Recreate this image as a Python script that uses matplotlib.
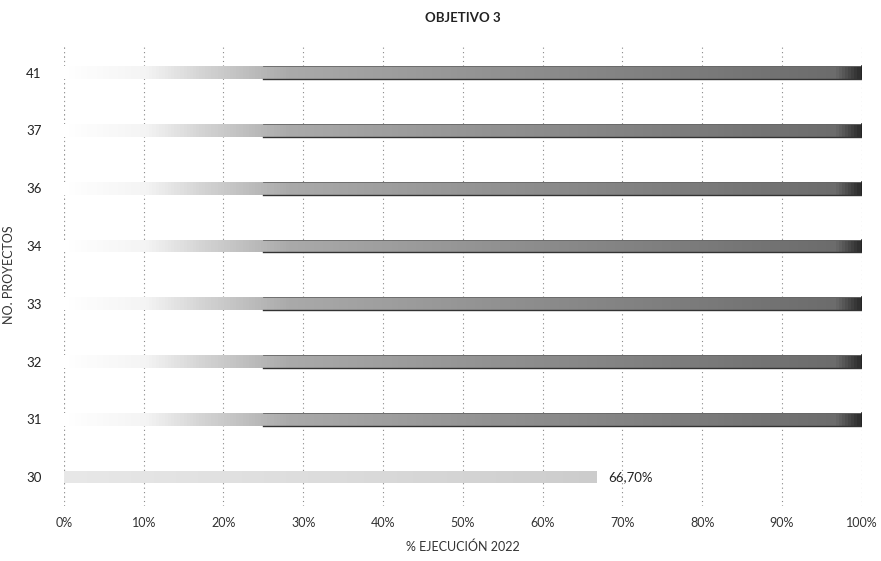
import matplotlib
matplotlib.use("Agg")
import matplotlib.pyplot as plt
import numpy as np
from matplotlib.colors import LinearSegmentedColormap

plt.rcParams['font.family'] = ['Lato', 'DejaVu Sans']

categories = ["30", "31", "32", "33", "34", "36", "37", "41"]
values = [66.7, 100, 100, 100, 100, 100, 100, 100]
labels = ["66,70%", "", "", "", "", "", "", ""]
xticks = [0, 10, 20, 30, 40, 50, 60, 70, 80, 90, 100]
xticklabels = ["0%", "10%", "20%", "30%", "40%", "50%", "60%", "70%", "80%", "90%", "100%"]

fig = plt.figure(figsize=(8.81, 5.61), dpi=100)
ax = fig.add_axes([0.0726, 0.098, 0.9054, 0.824])

ypos = np.arange(len(categories))
bars = ax.barh(ypos, values, height=0.22, color="none", edgecolor="none")

dark_cmap = LinearSegmentedColormap.from_list("g", [
    (0.0, "#ffffff"), (0.10, "#f4f4f4"), (0.17, "#d4d4d4"),
    (0.28, "#aaaaaa"), (0.6, "#8c8c8c"), (0.97, "#6c6c6c"), (1.0, "#303030")])
light_cmap = LinearSegmentedColormap.from_list("l", [
    (0.0, "#e8e8e8"), (0.5, "#dcdcdc"), (1.0, "#cccccc")])

grad = np.linspace(0, 1, 256).reshape(1, -1)
for b, v in zip(bars, values):
    x0, y0 = b.get_x(), b.get_y()
    w, h = b.get_width(), b.get_height()
    cmap = light_cmap if v < 100 else dark_cmap
    im = ax.imshow(grad, cmap=cmap, aspect="auto", extent=[x0, x0 + w, y0, y0 + h],
                   interpolation="bilinear", zorder=3)
    im.set_clip_path(b)
    if v >= 100:
        ax.plot([x0 + 25, x0 + w], [y0 + h, y0 + h], color="#666666", lw=0.6, zorder=4)
        ax.plot([x0 + w, x0 + w], [y0, y0 + h], color="#222222", lw=1.2, zorder=4)
        ax.plot([x0 + 25, x0 + w], [y0, y0], color="#333333", lw=1.0, zorder=4)

for b, lab in zip(bars, labels):
    if lab:
        ax.text(b.get_width() + 1.5, b.get_y() + b.get_height() / 2, lab,
                va="center", ha="left", fontsize=9.5, color="#222222", zorder=5)

ax.set_xlim(0, 100)
ax.set_ylim(-0.5, len(categories) - 0.5)
ax.set_xticks(xticks)
ax.set_xticklabels(xticklabels, fontsize=9, color="#333333")
ax.set_yticks(ypos)
ax.set_yticklabels(categories, fontsize=9.5, color="#222222")
ax.tick_params(length=0, pad=16, axis="y")
ax.tick_params(length=0, pad=8, axis="x")
ax.xaxis.grid(True, linestyle=(0, (1, 3)), color="#888888", lw=0.8)
ax.set_axisbelow(True)
for s in ax.spines.values():
    s.set_visible(False)
ax.axvline(0, linestyle=(0, (1, 3)), color="#999999", lw=0.8, zorder=1)

ax.set_xlabel("% EJECUCIÓN 2022", fontsize=9, color="#333333", labelpad=8)
ax.set_ylabel("NO. PROYECTOS", fontsize=9, color="#333333", labelpad=8)
ax.set_title("OBJETIVO 3", fontsize=9.5, fontweight="bold", color="#222222", pad=16)

fig.savefig("out.png", dpi=100)
